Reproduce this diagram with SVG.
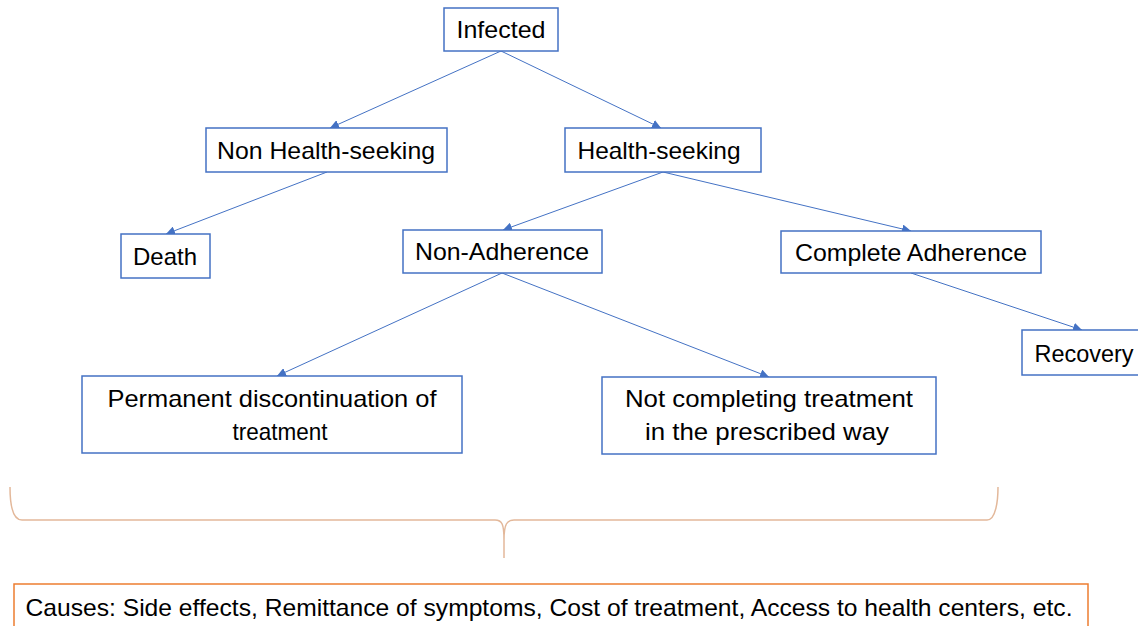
<svg xmlns="http://www.w3.org/2000/svg" width="1138" height="626" viewBox="0 0 1138 626">
<style>
.box{fill:#fff;stroke:#4472C4;stroke-width:1.5}
.t{font-family:"Liberation Sans",Arial,sans-serif;font-size:24px;fill:#000;text-anchor:middle}
.c line{stroke:#4472C4;stroke-width:1;marker-end:url(#ah)}
</style>
<defs>
<marker id="ah" viewBox="0 0 10 10" refX="10" refY="5" markerWidth="9" markerHeight="9" markerUnits="userSpaceOnUse" orient="auto">
<path d="M0,0 L10,5 L0,10 z" fill="#4472C4"/>
</marker>
</defs>
<rect width="1138" height="626" fill="#fff"/>
<g class="c" id="connectors">
<line x1="501" y1="51" x2="330" y2="128"/>
<line x1="501" y1="51" x2="661" y2="128"/>
<line x1="327" y1="172" x2="166" y2="234"/>
<line x1="663" y1="172" x2="503" y2="230"/>
<line x1="663" y1="172" x2="911" y2="231"/>
<line x1="502" y1="273" x2="277" y2="376"/>
<line x1="502" y1="273" x2="769" y2="377"/>
<line x1="911" y1="273" x2="1082" y2="330"/>
</g>
<g id="infected"><rect class="box" x="444" y="8" width="114" height="43"/><text class="t" x="501" y="38" textLength="89" lengthAdjust="spacingAndGlyphs">Infected</text></g>
<g id="nonhealth"><rect class="box" x="206" y="128" width="241" height="44"/><text class="t" x="326" y="159" textLength="218" lengthAdjust="spacingAndGlyphs">Non Health-seeking</text></g>
<g id="health"><rect class="box" x="565" y="128" width="196" height="44"/><text class="t" x="659" y="159" textLength="163" lengthAdjust="spacingAndGlyphs">Health-seeking</text></g>
<g id="death"><rect class="box" x="121" y="234" width="89" height="44"/><text class="t" x="165" y="265" textLength="64" lengthAdjust="spacingAndGlyphs">Death</text></g>
<g id="nonadh"><rect class="box" x="403" y="230" width="199" height="43"/><text class="t" x="502" y="260" textLength="174" lengthAdjust="spacingAndGlyphs">Non-Adherence</text></g>
<g id="compadh"><rect class="box" x="781" y="231" width="260" height="42"/><text class="t" x="911" y="261" textLength="232" lengthAdjust="spacingAndGlyphs">Complete Adherence</text></g>
<g id="recovery"><rect class="box" x="1022" y="330" width="120" height="45"/><text class="t" x="1084" y="362" textLength="99" lengthAdjust="spacingAndGlyphs">Recovery</text></g>
<g id="permanent"><rect class="box" x="82" y="376" width="380" height="77"/><text class="t" x="272" y="407" textLength="329" lengthAdjust="spacingAndGlyphs">Permanent discontinuation of</text><text class="t" x="280" y="440" textLength="95" lengthAdjust="spacingAndGlyphs">treatment</text></g>
<g id="notcompleting"><rect class="box" x="602" y="377" width="334" height="77"/><text class="t" x="769" y="407" textLength="288" lengthAdjust="spacingAndGlyphs">Not completing treatment</text><text class="t" x="767" y="440" textLength="244" lengthAdjust="spacingAndGlyphs">in the prescribed way</text></g>
<g id="brace"><path d="M10,487 C10,500 11,520 22,520 L495,520 C502,520 504,524 504,540 L504,558 M504,540 C504,524 507,520 514,520 L987,520 C996,520 998,500 998,487" fill="none" stroke="#E3B89A" stroke-width="1.5"/></g>
<g id="causes"><rect x="14" y="584" width="1074" height="50" fill="#fff" stroke="#ED7D31" stroke-width="1.5"/><text class="t" x="549" y="616" textLength="1047" lengthAdjust="spacingAndGlyphs">Causes: Side effects, Remittance of symptoms, Cost of treatment, Access to health centers, etc.</text></g>
</svg>
